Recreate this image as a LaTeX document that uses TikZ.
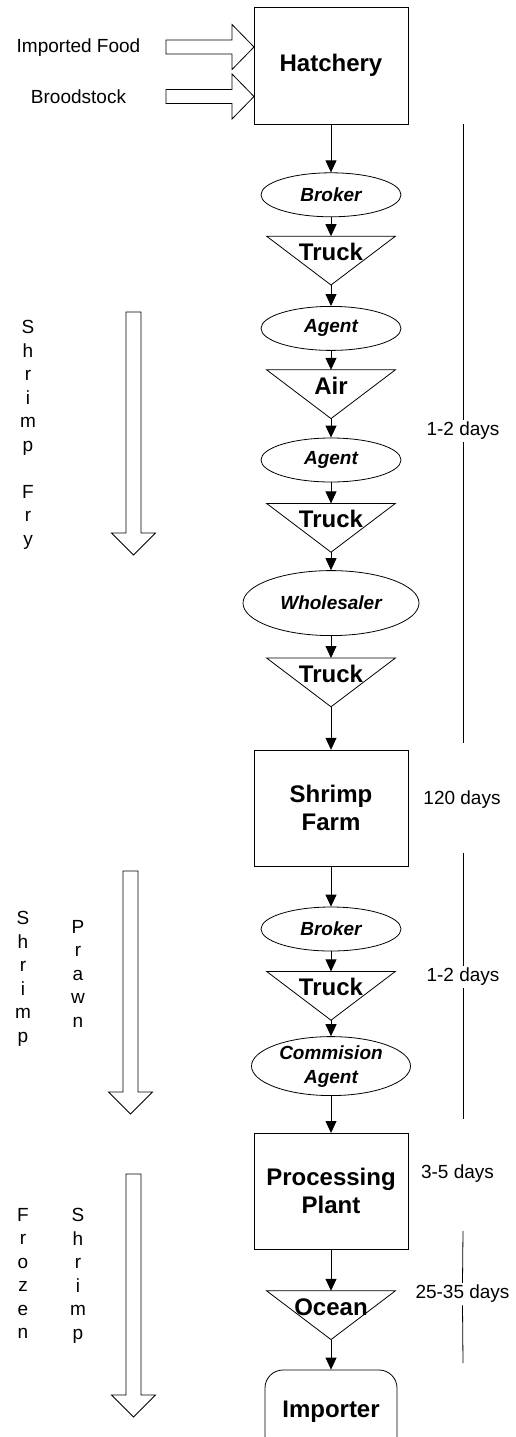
\documentclass[tikz,border=0pt]{standalone}
\usepackage{fontspec}
\setmainfont{Liberation Sans}
\usepackage{tikz}
\usetikzlibrary{positioning, shapes.geometric, arrows.meta}

\tikzset{
	stage/.style={rectangle, draw, minimum width=154pt, minimum height=116pt, inner sep=0pt, align=center, font=\bfseries\fontsize{24}{28}\selectfont},
	actor/.style={ellipse, draw, minimum width=140pt, minimum height=44pt, inner sep=0pt, align=center, font=\bfseries\itshape\fontsize{19}{24}\selectfont},
	transport/.style={rectangle, minimum width=128pt, minimum height=48pt, inner sep=0pt, text height=12pt, text depth=12pt, font=\bfseries\fontsize{24}{28}\selectfont},
	flow/.style={-{Triangle[width=11pt, length=12pt]}},
	hollow/.style={draw, fill=white},
	note/.style={font=\fontsize{19}{23.5}\selectfont},
	days/.style={inner sep=2pt, font=\fontsize{19}{23.5}\selectfont},
	vword/.style={align=center, inner sep=0pt, anchor=north, font=\fontsize{19}{23.5}\selectfont}
}

\begin{document}
\begin{tikzpicture}[x=1pt, y=-1pt, line width=0.8pt]
	\useasboundingbox (0,0) rectangle (515,1437);
	
	% Catena principale
	\node[stage, minimum height=117pt] (hatchery) at (331,65.5) {Hatchery};
	\node[actor, below=48pt of hatchery] (brokerA) {Broker};
	\node[transport, below=19pt of brokerA] (truckA) {Truck};
	\node[actor, below=21pt of truckA] (agentA) {Agent};
	\node[transport, below=19pt of agentA] (air) {Air};
	\node[actor, below=19pt of air] (agentB) {Agent};
	\node[transport, below=21pt of agentB] (truckB) {Truck};
	\node[actor, minimum width=176pt, minimum height=65pt, below=18pt of truckB] (wholesaler) {Wholesaler};
	\node[transport, below=22pt of wholesaler] (truckC) {Truck};
	\node[stage, below=43pt of truckC] (farm) {Shrimp\\Farm};
	\node[actor, below=40pt of farm] (brokerB) {Broker};
	\node[transport, below=20pt of brokerB] (truckD) {Truck};
	\node[actor, minimum width=159pt, minimum height=54pt, below=16pt of truckD] (commision) {Commision\\Agent};
	\node[stage, below=37pt of commision] (plant) {Processing\\Plant};
	\node[transport, below=41pt of plant] (ocean) {Ocean};
	\node[stage, rounded corners=18pt, minimum width=132pt, minimum height=84pt, below=30pt of ocean] (importer) {Importer};
	
	% Triangoli dei trasporti
	\foreach \t in {truckA, air, truckB, truckC, truckD, ocean}
		\draw (\t.north west) -- (\t.north east) -- (\t.south) -- cycle;
	
	% Collegamenti
	\foreach \a/\b in {hatchery/brokerA, brokerA/truckA, truckA/agentA, agentA/air, air/agentB, agentB/truckB, truckB/wholesaler, wholesaler/truckC, truckC/farm, farm/brokerB, brokerB/truckD, truckD/commision, commision/plant, plant/ocean, ocean/importer}
		\draw[flow] (\a) -- (\b);
	
	% Ingressi
	\node[note] (food) at (78.5,48) {Imported Food};
	\node[note] (brood) at (78.5,97) {Broodstock};
	\foreach \y in {47,96.5}
		\draw[hollow] (166,\y-7) -- (232,\y-7) -- (232,\y-22.5) -- (254,\y) -- (232,\y+22.5) -- (232,\y+7) -- (166,\y+7) -- cycle;
	
	% Prodotto lungo la catena
	\node[vword] (fry) at (28,320) {S\\h\\r\\i\\m\\p\\\mbox{}\\F\\r\\y};
	\node[vword] (shrimpA) at (23,911) {S\\h\\r\\i\\m\\p};
	\node[vword] (prawn) at (78,920) {P\\r\\a\\w\\n};
	\node[vword] (frozen) at (23,1208) {F\\r\\o\\z\\e\\n};
	\node[vword] (shrimpB) at (78,1208) {S\\h\\r\\i\\m\\p};
	\foreach \x/\ya/\yb in {133.5/312/555, 130.5/871/1114, 133.5/1174/1417}
		\draw[hollow] (\x-7.5,\ya) -- (\x+7.5,\ya) -- (\x+7.5,\yb-22) -- (\x+22,\yb-22) -- (\x,\yb) -- (\x-22,\yb-22) -- (\x-7.5,\yb-22) -- cycle;
	
	% Tempi
	\coordinate (spanAtop) at (463,124);
	\coordinate (spanAbot) at (463,743);
	\coordinate (spanBtop) at (463,853);
	\coordinate (spanBbot) at (463,1119);
	\coordinate (spanCtop) at (463,1231);
	\coordinate (spanCbot) at (463,1363);
	\node[days] (fryDays) at (463,431) {1-2 days};
	\node[days] (prawnDays) at (463,977) {1-2 days};
	\node[days] (oceanDays) at (462.5,1294) {25-35 days};
	\node[note] (farmDays) at (462,800) {120 days};
	\node[note] (plantDays) at (457.5,1174) {3-5 days};
	\draw (spanAtop) -- (fryDays.north);
	\draw (fryDays.south) -- (spanAbot);
	\draw (spanBtop) -- (prawnDays.north);
	\draw (prawnDays.south) -- (spanBbot);
	\draw (spanCtop) -- (oceanDays.north);
	\draw (oceanDays.south) -- (spanCbot);
\end{tikzpicture}
\end{document}
